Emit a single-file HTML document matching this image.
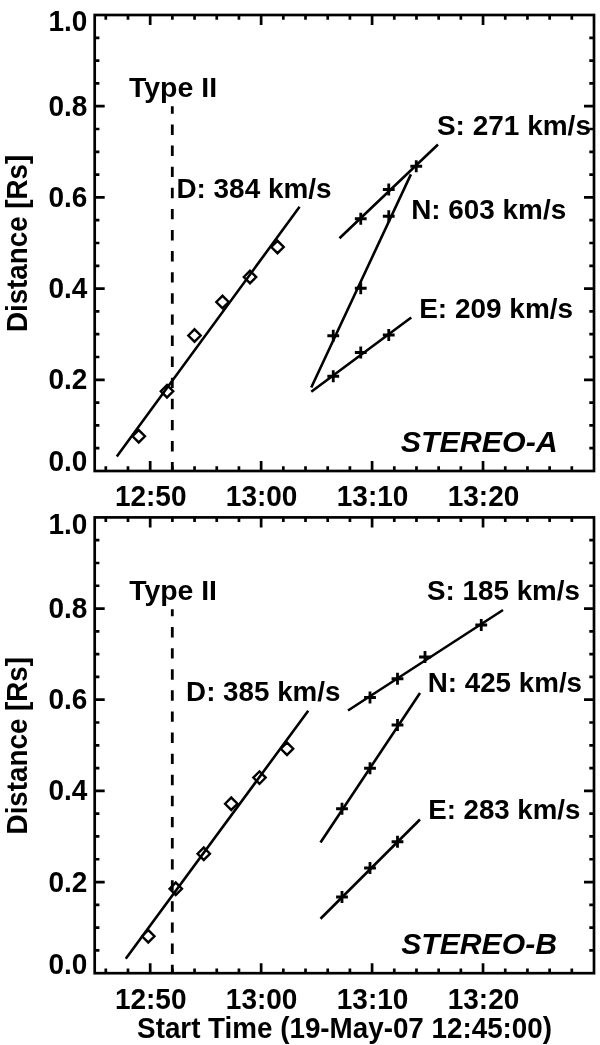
<!DOCTYPE html>
<html><head><meta charset="utf-8"><title>STEREO distance-time</title>
<style>
html,body{margin:0;padding:0;background:#fff;}
svg{display:block;}
text{font-family:"Liberation Sans",sans-serif;font-weight:bold;font-size:28.0px;fill:#000;}
</style></head>
<body>
<svg width="600" height="1045" viewBox="0 0 600 1045">
<rect width="600" height="1045" fill="#fff"/>
<rect x="94.7" y="15.0" width="499.3" height="456.0" fill="none" stroke="#000" stroke-width="2.7"/>
<path d="M105.80 471.0v-4.7M105.80 15.0v4.7M127.99 471.0v-4.7M127.99 15.0v4.7M150.18 471.0v-10M150.18 15.0v10M172.37 471.0v-4.7M172.37 15.0v4.7M194.56 471.0v-4.7M194.56 15.0v4.7M216.75 471.0v-4.7M216.75 15.0v4.7M238.94 471.0v-4.7M238.94 15.0v4.7M261.13 471.0v-10M261.13 15.0v10M283.32 471.0v-4.7M283.32 15.0v4.7M305.52 471.0v-4.7M305.52 15.0v4.7M327.71 471.0v-4.7M327.71 15.0v4.7M349.90 471.0v-4.7M349.90 15.0v4.7M372.09 471.0v-10M372.09 15.0v10M394.28 471.0v-4.7M394.28 15.0v4.7M416.47 471.0v-4.7M416.47 15.0v4.7M438.66 471.0v-4.7M438.66 15.0v4.7M460.85 471.0v-4.7M460.85 15.0v4.7M483.04 471.0v-10M483.04 15.0v10M505.24 471.0v-4.7M505.24 15.0v4.7M527.43 471.0v-4.7M527.43 15.0v4.7M549.62 471.0v-4.7M549.62 15.0v4.7M571.81 471.0v-4.7M571.81 15.0v4.7M94.7 448.20h4.7M594.0 448.20h-4.7M94.7 425.40h4.7M594.0 425.40h-4.7M94.7 402.60h4.7M594.0 402.60h-4.7M94.7 379.80h10M594.0 379.80h-10M94.7 357.00h4.7M594.0 357.00h-4.7M94.7 334.20h4.7M594.0 334.20h-4.7M94.7 311.40h4.7M594.0 311.40h-4.7M94.7 288.60h10M594.0 288.60h-10M94.7 265.80h4.7M594.0 265.80h-4.7M94.7 243.00h4.7M594.0 243.00h-4.7M94.7 220.20h4.7M594.0 220.20h-4.7M94.7 197.40h10M594.0 197.40h-10M94.7 174.60h4.7M594.0 174.60h-4.7M94.7 151.80h4.7M594.0 151.80h-4.7M94.7 129.00h4.7M594.0 129.00h-4.7M94.7 106.20h10M594.0 106.20h-10M94.7 83.40h4.7M594.0 83.40h-4.7M94.7 60.60h4.7M594.0 60.60h-4.7M94.7 37.80h4.7M594.0 37.80h-4.7" stroke="#000" stroke-width="2.7" fill="none"/>
<text id="ay0" transform="translate(48.50 471.30) scale(1.0000 1.03)">0.0</text>
<text id="ay1" transform="translate(48.50 389.40) scale(1.0000 1.03)">0.2</text>
<text id="ay2" transform="translate(48.50 298.20) scale(1.0000 1.03)">0.4</text>
<text id="ay3" transform="translate(48.50 207.00) scale(1.0000 1.03)">0.6</text>
<text id="ay4" transform="translate(48.50 115.80) scale(1.0000 1.03)">0.8</text>
<text id="ay5" transform="translate(48.50 31.20) scale(1.0000 1.03)">1.0</text>
<text id="ax5" transform="translate(114.88 505.70) scale(1.0000 1.03)">12:50</text>
<text id="ax15" transform="translate(225.83 505.70) scale(1.0000 1.03)">13:00</text>
<text id="ax25" transform="translate(336.79 505.70) scale(1.0000 1.03)">13:10</text>
<text id="ax35" transform="translate(447.74 505.70) scale(1.0000 1.03)">13:20</text>
<text id="ayt" transform="translate(27.2 332.10) rotate(-90) scale(0.9920 1.03)">Distance [Rs]</text>
<path d="M172.3 471.0V106.2" stroke="#000" stroke-width="2.8" stroke-dasharray="10.4 10.7" stroke-dashoffset="1.5" fill="none"/>
<path d="M116.8 456.4L299.6 206.8M339.5 238.25L438 144.5M311.25 387.5L410.9 174.4M311.25 391.75L411.25 317.5" stroke="#000" stroke-width="2.6" fill="none"/>
<path d="M132.55 436.25L138.75 430.05L144.95 436.25L138.75 442.45ZM160.8 391.25L167 385.05L173.2 391.25L167 397.45ZM188.3 335.5L194.5 329.3L200.7 335.5L194.5 341.7ZM216.3 302L222.5 295.8L228.7 302L222.5 308.2ZM243.8 277L250 270.8L256.2 277L250 283.2ZM271.3 247L277.5 240.8L283.7 247L277.5 253.2Z" stroke="#000" stroke-width="2.4" fill="none"/>
<path d="M410.35 166.25h11.8M416.25 160.35v11.8M382.85 189.5h11.8M388.75 183.6v11.8M354.85 218.75h11.8M360.75 212.85v11.8M382.85 216.25h11.8M388.75 210.35v11.8M354.85 288.25h11.8M360.75 282.35v11.8M327.35 335.75h11.8M333.25 329.85v11.8M327.35 376.25h11.8M333.25 370.35v11.8M354.85 352.5h11.8M360.75 346.6v11.8M382.85 335h11.8M388.75 329.1v11.8" stroke="#000" stroke-width="2.8" fill="none"/>
<text id="aty" transform="translate(129.00 96.80) scale(1.0166 1.015)">Type II</text>
<text id="ad" transform="translate(176.40 197.60) scale(0.9974 1.015)">D: 384 km/s</text>
<text id="as" transform="translate(436.90 135.00) scale(1.0000 1.015)">S: 271 km/s</text>
<text id="an" transform="translate(411.20 219.20) scale(0.9961 1.015)">N: 603 km/s</text>
<text id="ae" transform="translate(419.20 317.80) scale(0.9987 1.015)">E: 209 km/s</text>
<text id="aname" transform="translate(400.80 451.90) scale(1.0856 1.08)" font-style="italic">STEREO-A</text>
<rect x="94.7" y="517.4" width="499.3" height="455.80000000000007" fill="none" stroke="#000" stroke-width="2.7"/>
<path d="M105.80 973.2v-4.7M105.80 517.4v4.7M127.99 973.2v-4.7M127.99 517.4v4.7M150.18 973.2v-10M150.18 517.4v10M172.37 973.2v-4.7M172.37 517.4v4.7M194.56 973.2v-4.7M194.56 517.4v4.7M216.75 973.2v-4.7M216.75 517.4v4.7M238.94 973.2v-4.7M238.94 517.4v4.7M261.13 973.2v-10M261.13 517.4v10M283.32 973.2v-4.7M283.32 517.4v4.7M305.52 973.2v-4.7M305.52 517.4v4.7M327.71 973.2v-4.7M327.71 517.4v4.7M349.90 973.2v-4.7M349.90 517.4v4.7M372.09 973.2v-10M372.09 517.4v10M394.28 973.2v-4.7M394.28 517.4v4.7M416.47 973.2v-4.7M416.47 517.4v4.7M438.66 973.2v-4.7M438.66 517.4v4.7M460.85 973.2v-4.7M460.85 517.4v4.7M483.04 973.2v-10M483.04 517.4v10M505.24 973.2v-4.7M505.24 517.4v4.7M527.43 973.2v-4.7M527.43 517.4v4.7M549.62 973.2v-4.7M549.62 517.4v4.7M571.81 973.2v-4.7M571.81 517.4v4.7M94.7 950.41h4.7M594.0 950.41h-4.7M94.7 927.62h4.7M594.0 927.62h-4.7M94.7 904.83h4.7M594.0 904.83h-4.7M94.7 882.04h10M594.0 882.04h-10M94.7 859.25h4.7M594.0 859.25h-4.7M94.7 836.46h4.7M594.0 836.46h-4.7M94.7 813.67h4.7M594.0 813.67h-4.7M94.7 790.88h10M594.0 790.88h-10M94.7 768.09h4.7M594.0 768.09h-4.7M94.7 745.30h4.7M594.0 745.30h-4.7M94.7 722.51h4.7M594.0 722.51h-4.7M94.7 699.72h10M594.0 699.72h-10M94.7 676.93h4.7M594.0 676.93h-4.7M94.7 654.14h4.7M594.0 654.14h-4.7M94.7 631.35h4.7M594.0 631.35h-4.7M94.7 608.56h10M594.0 608.56h-10M94.7 585.77h4.7M594.0 585.77h-4.7M94.7 562.98h4.7M594.0 562.98h-4.7M94.7 540.19h4.7M594.0 540.19h-4.7" stroke="#000" stroke-width="2.7" fill="none"/>
<text id="by0" transform="translate(48.50 973.50) scale(1.0000 1.03)">0.0</text>
<text id="by1" transform="translate(48.50 891.64) scale(1.0000 1.03)">0.2</text>
<text id="by2" transform="translate(48.50 800.48) scale(1.0000 1.03)">0.4</text>
<text id="by3" transform="translate(48.50 709.32) scale(1.0000 1.03)">0.6</text>
<text id="by4" transform="translate(48.50 618.16) scale(1.0000 1.03)">0.8</text>
<text id="by5" transform="translate(48.50 533.60) scale(1.0000 1.03)">1.0</text>
<text id="bx5" transform="translate(114.88 1008.60) scale(1.0000 1.03)">12:50</text>
<text id="bx15" transform="translate(225.83 1008.60) scale(1.0000 1.03)">13:00</text>
<text id="bx25" transform="translate(336.79 1008.60) scale(1.0000 1.03)">13:10</text>
<text id="bx35" transform="translate(447.74 1008.60) scale(1.0000 1.03)">13:20</text>
<text id="byt" transform="translate(27.2 834.40) rotate(-90) scale(0.9920 1.03)">Distance [Rs]</text>
<path d="M172.3 973.2V609.3" stroke="#000" stroke-width="2.8" stroke-dasharray="10.4 10.7" stroke-dashoffset="1.85" fill="none"/>
<path d="M125.75 958.75L308.25 710.75M348 710.5L503 610M320.5 842.5L420 693M320.5 918.75L420 819.5" stroke="#000" stroke-width="2.6" fill="none"/>
<path d="M142.05 936.25L148.25 930.05L154.45 936.25L148.25 942.45ZM169.55 888.75L175.75 882.55L181.95 888.75L175.75 894.95ZM197.55 853.75L203.75 847.55L209.95 853.75L203.75 859.95ZM225.05 803.75L231.25 797.55L237.45 803.75L231.25 809.95ZM253.3 777.6L259.5 771.4L265.7 777.6L259.5 783.8000000000001ZM280.8 748.75L287 742.55L293.2 748.75L287 754.95Z" stroke="#000" stroke-width="2.4" fill="none"/>
<path d="M364.1 697.5h11.8M370 691.6v11.8M391.6 678.75h11.8M397.5 672.85v11.8M419.1 657h11.8M425 651.1v11.8M475.35 625h11.8M481.25 619.1v11.8M391.6 725h11.8M397.5 719.1v11.8M364.1 768.25h11.8M370 762.35v11.8M336.1 808.75h11.8M342 802.85v11.8M336.1 897h11.8M342 891.1v11.8M364.1 868h11.8M370 862.1v11.8M391.6 841.75h11.8M397.5 835.85v11.8" stroke="#000" stroke-width="2.8" fill="none"/>
<text id="bty" transform="translate(129.20 599.50) scale(1.0142 1.015)">Type II</text>
<text id="bd" transform="translate(186.10 700.60) scale(0.9921 1.015)">D: 385 km/s</text>
<text id="bs" transform="translate(427.10 600.00) scale(0.9921 1.015)">S: 185 km/s</text>
<text id="bn" transform="translate(427.70 691.85) scale(0.9921 1.015)">N: 425 km/s</text>
<text id="be" transform="translate(428.20 818.80) scale(0.9880 1.015)">E: 283 km/s</text>
<text id="bname" transform="translate(401.20 954.10) scale(1.0777 1.08)" font-style="italic">STEREO-B</text>
<text id="xt" transform="translate(137.10 1038.40) scale(0.9927 1.03)">Start Time (19-May-07 12:45:00)</text>
</svg>
</body></html>
